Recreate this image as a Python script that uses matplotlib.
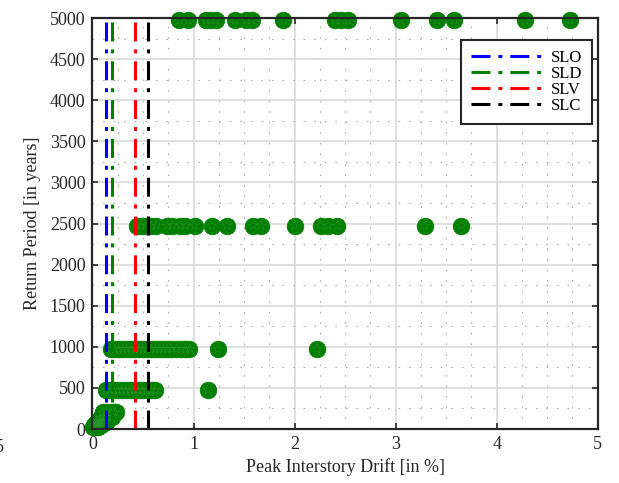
import matplotlib
matplotlib.use("Agg")
import matplotlib.pyplot as plt
import numpy as np

# return periods [years] and peak interstory drift [%]
rp_levels = [30, 50, 72, 101, 140, 201, 475, 975, 2475, 4975]
drift_30 = [0.01, 0.03, 0.05]
drift_50 = [0.02, 0.04, 0.06, 0.08]
drift_72 = [0.03, 0.05, 0.08, 0.11]
drift_101 = [0.05, 0.08, 0.11, 0.14]
drift_140 = [0.08, 0.11, 0.15, 0.19]
drift_201 = [0.10, 0.14, 0.18, 0.21, 0.23]
drift_475 = [0.13, 0.17, 0.21, 0.25, 0.29, 0.33, 0.37, 0.41, 0.45, 0.49,
             0.54, 0.58, 0.62, 1.14]
drift_975 = [0.18, 0.22, 0.26, 0.30, 0.34, 0.38, 0.42, 0.46, 0.50, 0.54,
             0.58, 0.62, 0.66, 0.70, 0.74, 0.78, 0.83, 0.88, 0.92, 0.96,
             1.24, 2.22]
drift_2475 = [0.44, 0.48, 0.53, 0.58, 0.63, 0.74, 0.79, 0.87, 0.92, 1.01,
              1.18, 1.33, 1.59, 1.67, 2.00, 2.26, 2.33, 2.42, 3.29, 3.65]
drift_4975 = [0.86, 0.95, 1.12, 1.17, 1.22, 1.41, 1.52, 1.58, 1.89, 2.40,
              2.46, 2.53, 3.05, 3.41, 3.58, 4.28, 4.73]
all_drifts = [drift_30, drift_50, drift_72, drift_101, drift_140, drift_201,
              drift_475, drift_975, drift_2475, drift_4975]

# limit states (drift thresholds)
ls_names = ["SLO", "SLD", "SLV", "SLC"]
ls_drift = [0.13, 0.19, 0.42, 0.55]
ls_colors = ["#0000ff", "#008000", "#ff0000", "#000000"]

plt.rcParams['font.family'] = ['Liberation Serif', 'DejaVu Serif']

fig = plt.figure(figsize=(6.19, 4.83), dpi=100)
ax = fig.add_axes([0.1494, 0.1118, 0.8162, 0.8509])

xs = []
ys = []
for rp, d in zip(rp_levels, all_drifts):
    xs += d
    ys += [rp] * len(d)
ax.scatter(xs, ys, s=145, c="#007f00", edgecolors="#007f00", linewidths=0.5,
           zorder=3, clip_on=False)
ax.scatter(xs, ys, s=50, marker="*", c="none", edgecolors="#2f962f",
           linewidths=0.3, zorder=3.5, clip_on=False)

for name, d, col in zip(ls_names, ls_drift, ls_colors):
    ax.plot([d, d], [0, 5000], color=col, lw=2.2, label=name,
            dashes=(6.2, 2.6, 1.3, 2.6), dash_capstyle='butt', zorder=4)

ax.set_xlim(0, 5)
ax.set_ylim(0, 5000)
ax.set_xticks(np.arange(0, 6, 1))
ax.set_yticks(np.arange(0, 5001, 500))
ax.set_xticks(np.arange(0, 5.01, 0.25), minor=True)
ax.set_yticks(np.arange(0, 5001, 250), minor=True)
ax.grid(which='major', color='#dcdcdc', lw=1.3, zorder=0)
ax.grid(which='minor', color='#b0b0b0', lw=0.8, dashes=(1.5, 8), zorder=0)
ax.set_axisbelow(True)
ax.tick_params(which='major', direction='in', length=4.5, width=1.2,
               top=True, right=True, labelsize=13, colors='#262626',
               labelcolor='#262626', pad=5)
ax.tick_params(which='minor', length=0)
for sp in ax.spines.values():
    sp.set_linewidth(1.6)
    sp.set_color('#262626')
    sp.set_zorder(5)

ax.set_xlabel("Peak Interstory Drift [in %]", fontsize=13, color='#262626')
ax.set_ylabel("Return Period [in years]", fontsize=13, color='#262626',
              labelpad=6)

leg = ax.legend(loc='upper right', bbox_to_anchor=(0.9887, 0.9465),
                borderaxespad=0, fontsize=12, handlelength=4.2,
                labelspacing=0.0, fancybox=False, framealpha=1,
                edgecolor='#262626', borderpad=0.6, handletextpad=0.6)
leg.get_frame().set_linewidth(1.5)
leg.set_zorder(6)

# clipped tick label left over at the figure edge
fig.text(4 / 619, 1 - 448 / 483, "5", fontsize=13, color='#262626',
         ha='right', va='center')

fig.savefig("out.png", dpi=100)
